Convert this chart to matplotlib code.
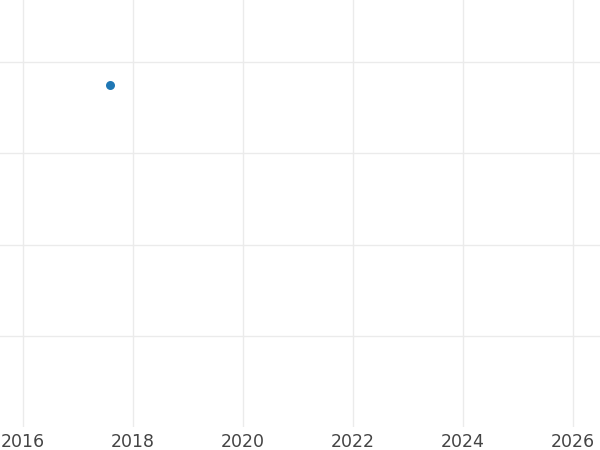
import matplotlib
matplotlib.use("Agg")
import matplotlib.pyplot as plt

# single observation
years = [2017.58]
values = [3.75]

xticks = [2016, 2018, 2020, 2022, 2024, 2026]
yticks = [1, 2, 3, 4]

fig = plt.figure(figsize=(6, 4.5), dpi=100)
ax = fig.add_axes([0, 23 / 450, 1, 427 / 450])

ax.scatter(years, values, s=42, color="#1f77b4", zorder=3, linewidths=0)

ax.set_xlim(2015.58, 2026.49)
ax.set_ylim(0, 4.68)
ax.set_xticks(xticks)
ax.set_xticklabels([str(t) for t in xticks])
ax.set_yticks(yticks)
ax.set_yticklabels([])
ax.grid(True, color="#ebebeb", linewidth=1.0)
ax.set_axisbelow(True)
ax.tick_params(axis="both", length=0)
ax.tick_params(axis="x", labelsize=12.5, labelcolor="#444444", pad=4)
for s in ax.spines.values():
    s.set_visible(False)

fig.savefig("out.png", dpi=100)
